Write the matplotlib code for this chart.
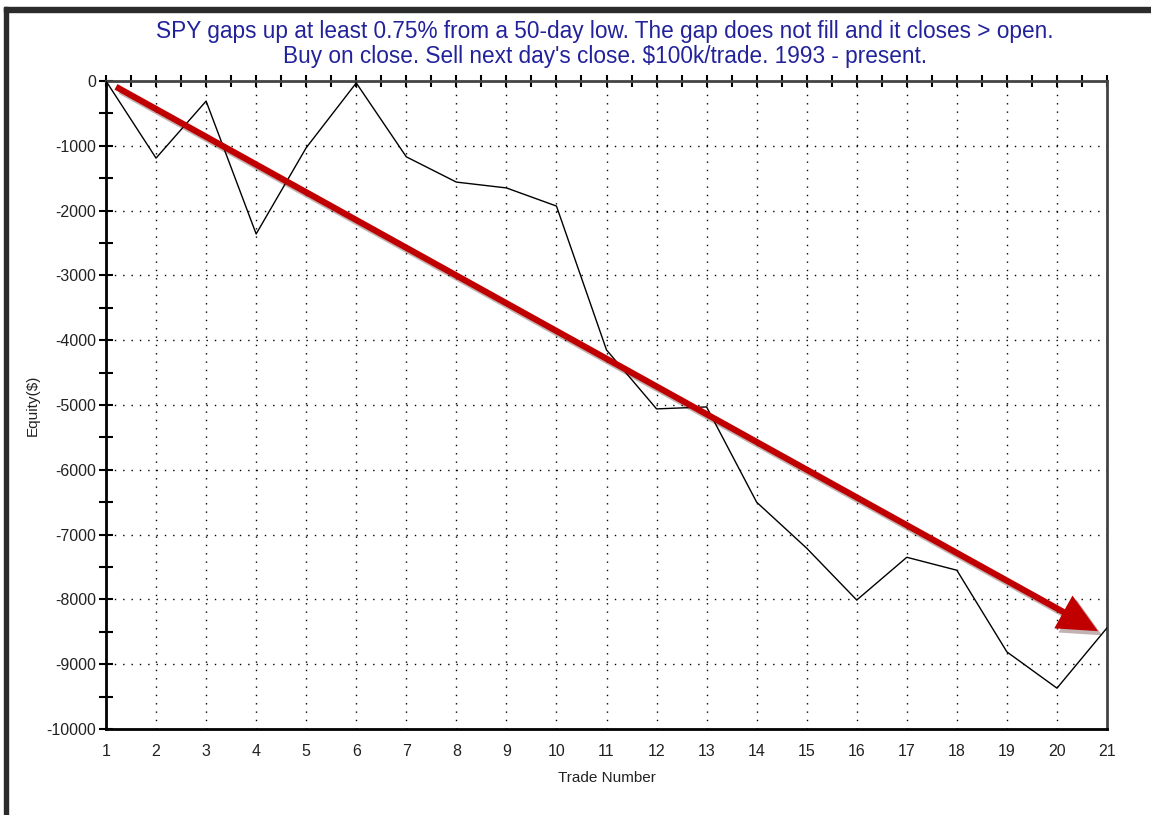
import numpy as np
import matplotlib
matplotlib.use("Agg")
import matplotlib.pyplot as plt
import matplotlib.patheffects as pe
from matplotlib.ticker import MultipleLocator

# equity curve
trade_num = list(range(1, 22))
equity = [0, -1190, -310, -2360, -1030, -30, -1170, -1560, -1650, -1930,
          -4150, -5060, -5030, -6500, -7210, -8010, -7350, -7550, -8810,
          -9370, -8440]

# trend arrow ends (data coords)
arrow_start = (1.2, -90)
arrow_end = (20.82, -8490)

title = ("SPY gaps up at least 0.75% from a 50-day low. The gap does not fill and it closes > open.\n"
         "Buy on close. Sell next day's close. $100k/trade. 1993 - present.")

plt.rcParams['font.family'] = ['Liberation Sans', 'DejaVu Sans']
plt.rcParams['axes.unicode_minus'] = False

fig = plt.figure(figsize=(11.51, 8.15), dpi=100)
ax = fig.add_axes([106/1151, 1 - 729/815, (1107 - 106)/1151, (729 - 81)/815])

# dark window border on left and top
fig.patches.append(plt.Rectangle((4/1151, 0), 4.5/1151, 1 - 7/815, transform=fig.transFigure,
                                 color='#2b2b2b', zorder=10))
fig.patches.append(plt.Rectangle((4/1151, 1 - 12/815), 1, 5/815, transform=fig.transFigure,
                                 color='#2b2b2b', zorder=10))

ax.plot(trade_num, equity, color='black', lw=1.0, zorder=3)

ax.set_xlim(1, 21)
ax.set_ylim(-10000, 0)
ax.xaxis.set_major_locator(MultipleLocator(1))
ax.xaxis.set_minor_locator(MultipleLocator(0.5))
ax.yaxis.set_major_locator(MultipleLocator(1000))
ax.yaxis.set_minor_locator(MultipleLocator(500))

ax.grid(True, which='major', color='black', lw=1.0, linestyle=(0, (1, 5)))

ax.tick_params(axis='x', which='both', bottom=False, top=True, labelbottom=True, labeltop=False,
               direction='inout', length=9, width=1.5, labelsize=11.5, pad=6, labelcolor='#222222')
ax.tick_params(axis='y', which='both', left=True, right=False, direction='inout',
               length=10, width=1.5, labelsize=11.5, pad=2, labelcolor='#222222')

for side in ['left', 'bottom']:
    ax.spines[side].set_linewidth(2)
    ax.spines[side].set_color('black')
for side in ['top', 'right']:
    ax.spines[side].set_linewidth(2)
    ax.spines[side].set_color('#444444')

ax.set_xlabel('Trade Number', fontsize=11, color='#222222', labelpad=9)
ax.set_ylabel('Equity($)', fontsize=11, color='#222222', labelpad=5)

fig.text(605/1151, 1 - 44/815, title, ha='center', va='center', fontsize=16.3,
         color='#22229a', linespacing=1.1)

ann = ax.annotate('', xy=arrow_end, xytext=arrow_start,
                  arrowprops=dict(arrowstyle='simple,head_length=1.9,head_width=1.8,tail_width=0.3',
                                  facecolor='#c00000', edgecolor='none', lw=0, mutation_scale=15,
                                  shrinkA=0, shrinkB=0))
ann.arrow_patch.set_path_effects([pe.SimplePatchShadow(offset=(3, -3), alpha=0.3),
                                  pe.Normal()])
ann.arrow_patch.set_zorder(4)

fig.savefig('out.png', dpi=100)
